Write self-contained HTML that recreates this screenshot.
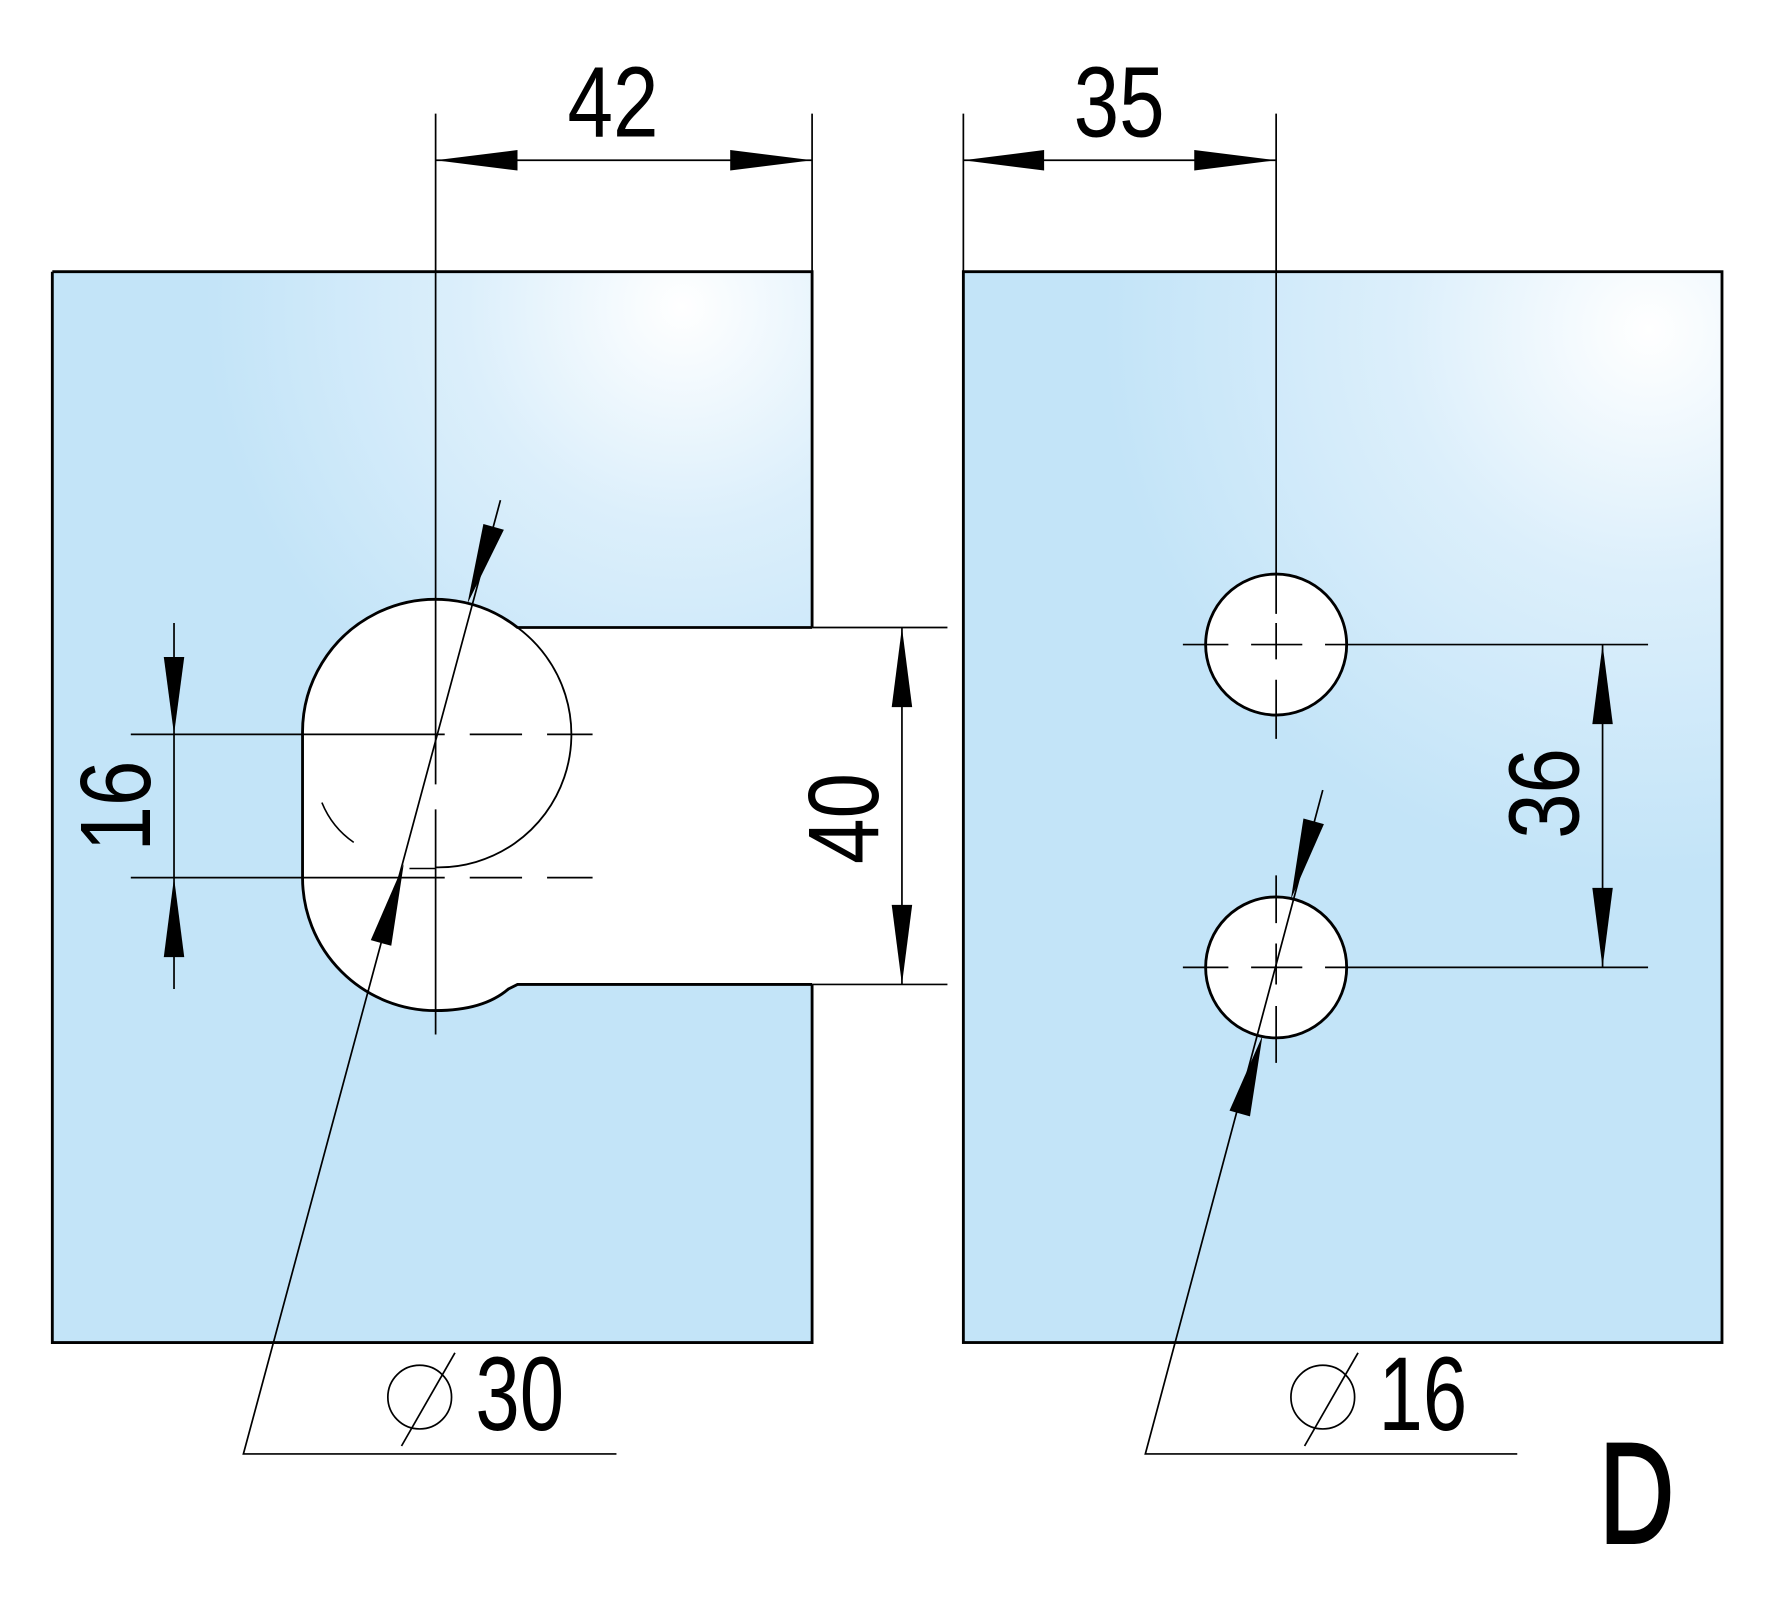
<!DOCTYPE html>
<html><head><meta charset="utf-8"><style>
html,body{margin:0;padding:0;background:#fff;}
svg{display:block;}
text{font-family:"Liberation Sans",sans-serif;fill:#000;}
</style></head><body>
<svg width="1780" height="1604" viewBox="0 0 1565 1411" preserveAspectRatio="none" xmlns="http://www.w3.org/2000/svg">
<defs>
<radialGradient id="gL" cx="600" cy="270" r="420" gradientUnits="userSpaceOnUse">
<stop offset="0" stop-color="#ffffff"/><stop offset="0.45" stop-color="#dceffb"/><stop offset="1" stop-color="#c3e4f8"/></radialGradient>
<radialGradient id="gR" cx="1450" cy="290" r="480" gradientUnits="userSpaceOnUse">
<stop offset="0" stop-color="#ffffff"/><stop offset="0.45" stop-color="#dceffb"/><stop offset="1" stop-color="#c3e4f8"/></radialGradient>
</defs>
<rect width="1565" height="1411" fill="#fff"/>
<rect x="46" y="239" width="668" height="942" fill="url(#gL)"/>
<path d="M720 552 L455 552 A117 117 0 0 0 266 646 L266 772 A117 117 0 0 0 383 889 Q425 889 447 870 L455 866 L720 866 Z" fill="#fff"/>
<path d="M714 552 L455 552 A117 117 0 0 0 266 646 L266 772 A117 117 0 0 0 383 889 Q425 889 447 870 L455 866 L714 866" fill="none" stroke="#000" stroke-width="2.5"/>
<path d="M46 239 H714 V552 M714 866 V1181 H46 V239" fill="none" stroke="#000" stroke-width="2.5"/>
<path d="M455 552 A117 117 0 0 1 383 763" fill="none" stroke="#000" stroke-width="1.6"/>
<path d="M283 706 Q292 728 311 741" fill="none" stroke="#000" stroke-width="1.4"/>
<path d="M360 764 L383 764" stroke="#000" stroke-width="1.4"/>
<rect x="847" y="239" width="667" height="942" fill="url(#gR)" stroke="#000" stroke-width="2.5"/>
<circle cx="1122" cy="567" r="62" fill="#fff" stroke="#000" stroke-width="2.5"/>
<circle cx="1122" cy="851" r="62" fill="#fff" stroke="#000" stroke-width="2.5"/>

<g stroke="#000" stroke-width="1.5" fill="none">
<path d="M383 100 V690 M383 712 V910 M714 100 V239 M383 141 H714"/>
<path d="M115 646 H391 M413 646 H459 M481 646 H521"/>
<path d="M115 772 H391 M413 772 H459 M481 772 H521"/>
<path d="M847 100 V239 M1122 100 V540 M847 141 H1122"/>
<path d="M1122 548 V580 M1122 598 V650 M1040 567 H1080 M1100 567 H1145 M1165 567 H1449"/>
<path d="M1122 770 V812 M1122 830 V866 M1122 885 V935 M1040 851 H1080 M1100 851 H1145 M1165 851 H1449"/>
<path d="M153 548 V870"/>
<path d="M714 552 H833 M714 866 H833 M793 552 V866"/>
<path d="M1409 567 V851"/>
<path d="M440 440 L214 1279 H542"/>
<path d="M1163 695 L1007 1279 H1334"/>
<circle cx="369" cy="1229" r="28"/>
<path d="M400 1190 L353 1272"/>
<circle cx="1163" cy="1229" r="28"/>
<path d="M1194 1190 L1147 1272"/>
</g>

<g fill="#000">
<polygon points="383,141 455,132 455,150"/>
<polygon points="714,141 642,132 642,150"/>
<polygon points="847,141 918,132 918,150"/>
<polygon points="1122,141 1050,132 1050,150"/>
<polygon points="153,646 144,578 162,578"/>
<polygon points="153,772 144,842 162,842"/>
<polygon points="793,552 784,622 802,622"/>
<polygon points="793,866 784,796 802,796"/>
<polygon points="1409,567 1400,637 1418,637"/>
<polygon points="1409,851 1400,781 1418,781"/>
<polygon points="411,531 425,461 443,466"/>
<polygon points="355,760 326,827 344,832"/>
<polygon points="1135,791 1146,720 1164,725"/>
<polygon points="1110,911 1081,977 1099,982"/>
</g>

<text x="539" y="120" font-size="88" text-anchor="middle" textLength="80" lengthAdjust="spacingAndGlyphs">42</text>
<text x="984" y="120" font-size="88" text-anchor="middle" textLength="80" lengthAdjust="spacingAndGlyphs">35</text>
<text x="0" y="0" font-size="88" text-anchor="middle" textLength="80" lengthAdjust="spacingAndGlyphs" transform="translate(132,709) rotate(-90)">16</text>
<text x="0" y="0" font-size="88" text-anchor="middle" textLength="80" lengthAdjust="spacingAndGlyphs" transform="translate(772,720) rotate(-90)">40</text>
<text x="0" y="0" font-size="88" text-anchor="middle" textLength="80" lengthAdjust="spacingAndGlyphs" transform="translate(1388,698) rotate(-90)">36</text>
<text x="418" y="1258" font-size="92" textLength="78" lengthAdjust="spacingAndGlyphs">30</text>
<text x="1212" y="1258" font-size="92" textLength="78" lengthAdjust="spacingAndGlyphs">16</text>
<text x="1406" y="1357" font-size="126" stroke="#000" stroke-width="2.5" textLength="66" lengthAdjust="spacingAndGlyphs">D</text>
</svg>
</body></html>
